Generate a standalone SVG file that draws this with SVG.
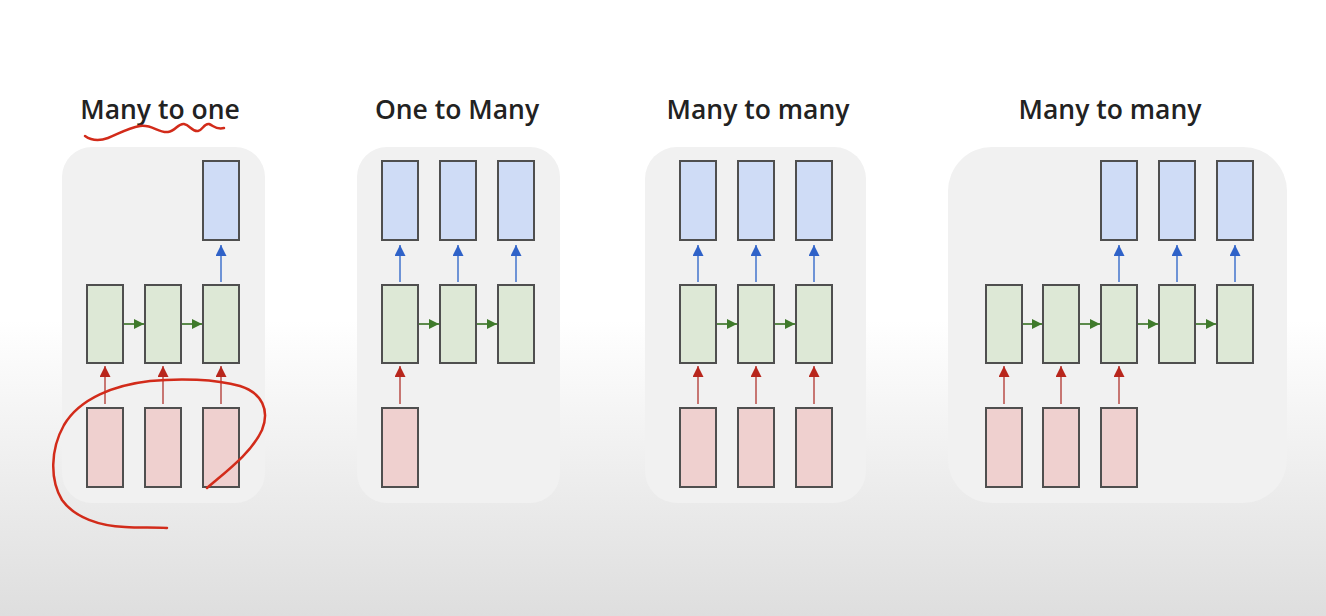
<svg xmlns="http://www.w3.org/2000/svg" width="1326" height="616" viewBox="0 0 1326 616">
  <defs>
    <linearGradient id="bg" x1="0" y1="0" x2="0" y2="1">
      <stop offset="0" stop-color="#ffffff"/>
      <stop offset="0.52" stop-color="#ffffff"/>
      <stop offset="0.75" stop-color="#efefef"/>
      <stop offset="1" stop-color="#dedede"/>
    </linearGradient>
    <marker id="ag" viewBox="0 0 10 10" refX="10" refY="5" markerWidth="11" markerHeight="10" markerUnits="userSpaceOnUse" orient="auto">
      <path d="M0,0 L10,5 L0,10 Z" fill="#3f7a2b"/>
    </marker>
    <marker id="ar" viewBox="0 0 10 10" refX="10" refY="5" markerWidth="12" markerHeight="11" markerUnits="userSpaceOnUse" orient="auto">
      <path d="M0,0 L10,5 L0,10 Z" fill="#b8261c"/>
    </marker>
    <marker id="ab" viewBox="0 0 10 10" refX="10" refY="5" markerWidth="12" markerHeight="11" markerUnits="userSpaceOnUse" orient="auto">
      <path d="M0,0 L10,5 L0,10 Z" fill="#2f62c8"/>
    </marker>
  </defs>
  <style>
    .panel { fill: #f1f1f1; }
    .box { stroke: #4f4f4f; stroke-width: 2; }
    .g { fill: #dde8d6; }
    .b { fill: #cfdcf6; }
    .r { fill: #efd0cf; }
    .title { font-family: "Open Sans", "Liberation Sans", sans-serif; font-weight: 600; font-size: 26.5px; fill: #222222; text-anchor: middle; }
    .cg { stroke: #5b8a4b; stroke-width: 2; fill: none; marker-end: url(#ag); }
    .cr { stroke: #c77672; stroke-width: 2; fill: none; marker-end: url(#ar); }
    .cb { stroke: #6e93d6; stroke-width: 2; fill: none; marker-end: url(#ab); }
    .ink { stroke: #d22b1a; stroke-width: 2.5; fill: none; stroke-linecap: round; stroke-linejoin: round; }
  </style>
  <rect x="0" y="0" width="1326" height="616" fill="url(#bg)"/>

  <!-- Panel 1: Many to one -->
  <g id="panel1">
    <rect class="panel" x="62" y="147" width="203" height="356" rx="30"/>
    <text class="title" x="160" y="119">Many to one</text>
  </g>
  <g id="p1-h1"><rect class="box g" x="87" y="285" width="36" height="78"/></g>
  <g id="p1-h2"><rect class="box g" x="145" y="285" width="36" height="78"/></g>
  <g id="p1-h3"><rect class="box g" x="203" y="285" width="36" height="78"/></g>
  <g id="p1-y3"><rect class="box b" x="203" y="161" width="36" height="79"/></g>
  <g id="p1-x1"><rect class="box r" x="87" y="408" width="36" height="79"/></g>
  <g id="p1-x2"><rect class="box r" x="145" y="408" width="36" height="79"/></g>
  <g id="p1-x3"><rect class="box r" x="203" y="408" width="36" height="79"/></g>

  <!-- Panel 2: One to Many -->
  <g id="panel2">
    <rect class="panel" x="357" y="147" width="203" height="356" rx="30"/>
    <text class="title" x="457" y="119">One to Many</text>
  </g>
  <g id="p2-h1"><rect class="box g" x="382" y="285" width="36" height="78"/></g>
  <g id="p2-h2"><rect class="box g" x="440" y="285" width="36" height="78"/></g>
  <g id="p2-h3"><rect class="box g" x="498" y="285" width="36" height="78"/></g>
  <g id="p2-y1"><rect class="box b" x="382" y="161" width="36" height="79"/></g>
  <g id="p2-y2"><rect class="box b" x="440" y="161" width="36" height="79"/></g>
  <g id="p2-y3"><rect class="box b" x="498" y="161" width="36" height="79"/></g>
  <g id="p2-x1"><rect class="box r" x="382" y="408" width="36" height="79"/></g>

  <!-- Panel 3: Many to many (synced) -->
  <g id="panel3">
    <rect class="panel" x="645" y="147" width="221" height="356" rx="32"/>
    <text class="title" x="758" y="119">Many to many</text>
  </g>
  <g id="p3-h1"><rect class="box g" x="680" y="285" width="36" height="78"/></g>
  <g id="p3-h2"><rect class="box g" x="738" y="285" width="36" height="78"/></g>
  <g id="p3-h3"><rect class="box g" x="796" y="285" width="36" height="78"/></g>
  <g id="p3-y1"><rect class="box b" x="680" y="161" width="36" height="79"/></g>
  <g id="p3-y2"><rect class="box b" x="738" y="161" width="36" height="79"/></g>
  <g id="p3-y3"><rect class="box b" x="796" y="161" width="36" height="79"/></g>
  <g id="p3-x1"><rect class="box r" x="680" y="408" width="36" height="79"/></g>
  <g id="p3-x2"><rect class="box r" x="738" y="408" width="36" height="79"/></g>
  <g id="p3-x3"><rect class="box r" x="796" y="408" width="36" height="79"/></g>

  <!-- Panel 4: Many to many (delayed) -->
  <g id="panel4">
    <rect class="panel" x="948" y="147" width="339" height="356" rx="44"/>
    <text class="title" x="1110" y="119">Many to many</text>
  </g>
  <g id="p4-h1"><rect class="box g" x="986" y="285" width="36" height="78"/></g>
  <g id="p4-h2"><rect class="box g" x="1043" y="285" width="36" height="78"/></g>
  <g id="p4-h3"><rect class="box g" x="1101" y="285" width="36" height="78"/></g>
  <g id="p4-h4"><rect class="box g" x="1159" y="285" width="36" height="78"/></g>
  <g id="p4-h5"><rect class="box g" x="1217" y="285" width="36" height="78"/></g>
  <g id="p4-y3"><rect class="box b" x="1101" y="161" width="36" height="79"/></g>
  <g id="p4-y4"><rect class="box b" x="1159" y="161" width="36" height="79"/></g>
  <g id="p4-y5"><rect class="box b" x="1217" y="161" width="36" height="79"/></g>
  <g id="p4-x1"><rect class="box r" x="986" y="408" width="36" height="79"/></g>
  <g id="p4-x2"><rect class="box r" x="1043" y="408" width="36" height="79"/></g>
  <g id="p4-x3"><rect class="box r" x="1101" y="408" width="36" height="79"/></g>

  <g id="connectors">
    <!-- panel 1 -->
    <path class="cg" d="M124,324 H144"/>
    <path class="cg" d="M182,324 H202"/>
    <path class="cr" d="M105,404 V366"/>
    <path class="cr" d="M163,404 V366"/>
    <path class="cr" d="M221,404 V366"/>
    <path class="cb" d="M221,282 V245"/>
    <!-- panel 2 -->
    <path class="cg" d="M419,324 H439"/>
    <path class="cg" d="M477,324 H497"/>
    <path class="cr" d="M400,404 V366"/>
    <path class="cb" d="M400,282 V245"/>
    <path class="cb" d="M458,282 V245"/>
    <path class="cb" d="M516,282 V245"/>
    <!-- panel 3 -->
    <path class="cg" d="M717,324 H737"/>
    <path class="cg" d="M775,324 H795"/>
    <path class="cr" d="M698,404 V366"/>
    <path class="cr" d="M756,404 V366"/>
    <path class="cr" d="M814,404 V366"/>
    <path class="cb" d="M698,282 V245"/>
    <path class="cb" d="M756,282 V245"/>
    <path class="cb" d="M814,282 V245"/>
    <!-- panel 4 -->
    <path class="cg" d="M1023,324 H1042"/>
    <path class="cg" d="M1080,324 H1100"/>
    <path class="cg" d="M1138,324 H1158"/>
    <path class="cg" d="M1196,324 H1216"/>
    <path class="cr" d="M1004,404 V366"/>
    <path class="cr" d="M1061,404 V366"/>
    <path class="cr" d="M1119,404 V366"/>
    <path class="cb" d="M1119,282 V245"/>
    <path class="cb" d="M1177,282 V245"/>
    <path class="cb" d="M1235,282 V245"/>
  </g>

  <g id="annotations">
    <path class="ink" d="M85,136 C92,141 100,141 108,138 C118,134 128,128 140,126 C152,124 158,133 168,132 C176,131 178,123 184,124 C190,125 192,132 198,131 C203,130 204,123 209,124 C214,126 216,130 224,128"/>
    <path class="ink" d="M207,488 C228,470 252,452 262,430 C270,410 262,393 240,386 C215,379 180,378 150,381 C115,385 80,398 64,425 C50,450 50,480 62,500 C75,518 100,526 125,527 C140,528 155,527 167,528"/>
  </g>
</svg>
